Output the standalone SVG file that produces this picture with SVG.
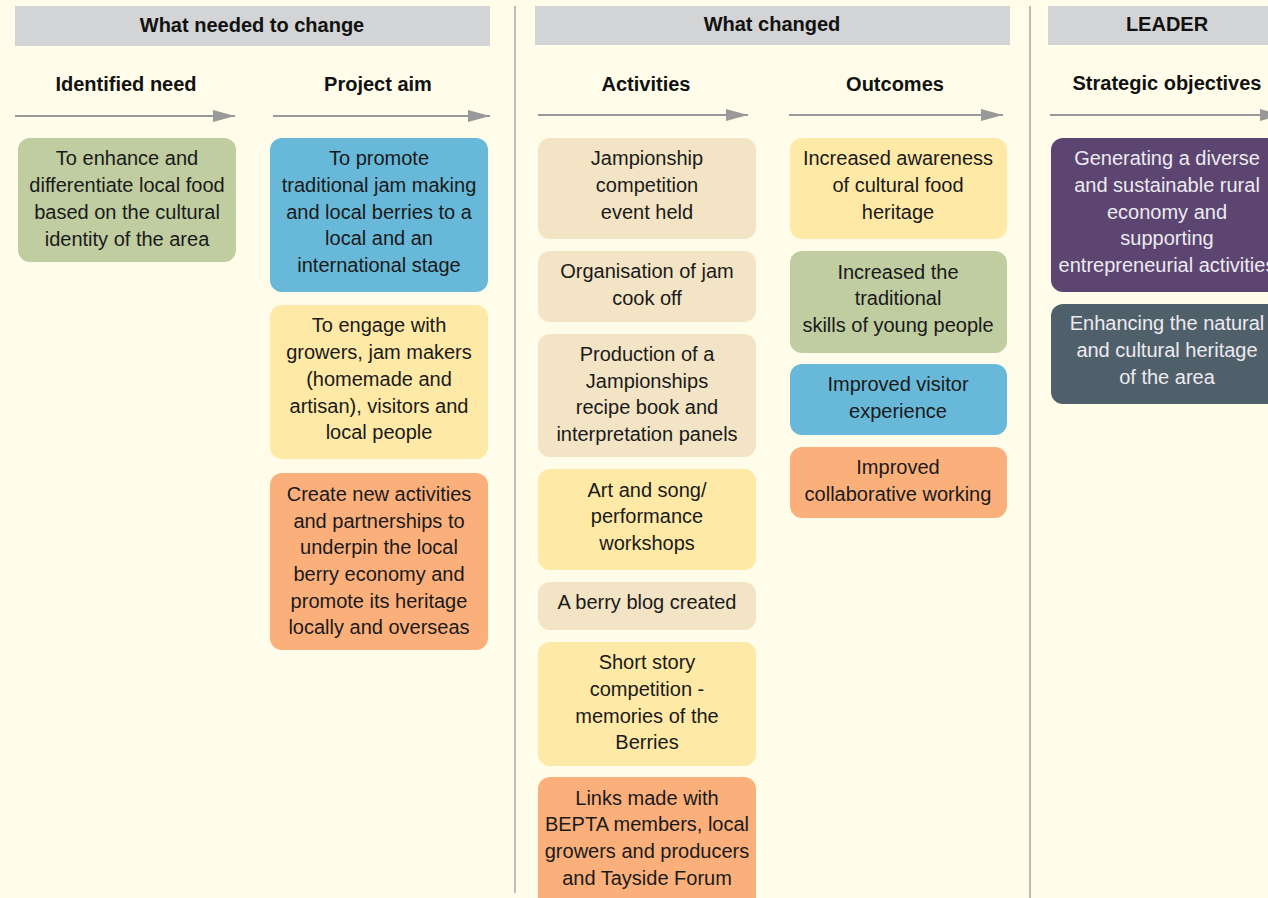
<svg xmlns="http://www.w3.org/2000/svg" width="1268" height="898" viewBox="0 0 1268 898">
<defs>
<marker id="ah" viewBox="0 0 22 12" refX="22" refY="6" markerWidth="22" markerHeight="12" markerUnits="userSpaceOnUse" orient="auto">
<path d="M0,0 L22,6 L0,12 Z" fill="#999999"/>
</marker>
<style>
.bar{fill:#D3D4D6}
.sep{stroke:#BDBDBD;stroke-width:2}
.h{font-family:"Liberation Sans",Arial,sans-serif;font-size:20px;font-weight:bold;fill:#111;text-anchor:middle}
.t{font-family:"Liberation Sans",Arial,sans-serif;font-size:20px;fill:#1a1a1a;text-anchor:middle}
.w{fill:#EDEAF0}
.arr{stroke:#999999;stroke-width:2;fill:none}
.green{fill:#BFCDA0}
.blue{fill:#68B9D9}
.yellow{fill:#FFE9A6}
.orange{fill:#FBB07C}
.beige{fill:#F2E4C4}
.purple{fill:#5C4571}
.slate{fill:#4F606B}
</style>
</defs>
<rect width="1268" height="898" fill="#FFFDE9"/>
<g id="headers">
<rect class="bar" x="15" y="6" width="475" height="40"/>
<text class="h" x="252" y="32">What needed to change</text>
<rect class="bar" x="535" y="6" width="475" height="39"/>
<text class="h" x="772" y="31">What changed</text>
<rect class="bar" x="1048" y="6" width="230" height="39"/>
<text class="h" x="1167" y="31">LEADER</text>
<line class="sep" x1="515" y1="6" x2="515" y2="893"/>
<line class="sep" x1="1030" y1="6" x2="1030" y2="898"/>
<text class="h" x="126" y="91">Identified need</text>
<text class="h" x="378" y="91">Project aim</text>
<text class="h" x="646" y="91">Activities</text>
<text class="h" x="895" y="91">Outcomes</text>
<text class="h" x="1167" y="90">Strategic objectives</text>
</g>
<g id="connectors">
<line class="arr" x1="15" y1="116" x2="235" y2="116" marker-end="url(#ah)"/>
<line class="arr" x1="273" y1="116" x2="490" y2="116" marker-end="url(#ah)"/>
<line class="arr" x1="538" y1="115" x2="748" y2="115" marker-end="url(#ah)"/>
<line class="arr" x1="789" y1="115" x2="1003" y2="115" marker-end="url(#ah)"/>
<line class="arr" x1="1050" y1="115" x2="1282" y2="115" marker-end="url(#ah)"/>
</g>
<g id="need1">
<rect class="green" x="18" y="138" width="218" height="124" rx="12"/>
<text class="t" x="127"><tspan x="127" y="165">To enhance and</tspan><tspan x="127" y="192">differentiate local food</tspan><tspan x="127" y="219">based on the cultural</tspan><tspan x="127" y="246">identity of the area</tspan></text>
</g>
<g id="aim1">
<rect class="blue" x="270" y="138" width="218" height="154" rx="12"/>
<text class="t"><tspan x="379" y="165">To promote</tspan><tspan x="379" y="192">traditional jam making</tspan><tspan x="379" y="219">and local berries to a</tspan><tspan x="379" y="245">local and an</tspan><tspan x="379" y="272">international stage</tspan></text>
</g>
<g id="aim2">
<rect class="yellow" x="270" y="305" width="218" height="154" rx="12"/>
<text class="t"><tspan x="379" y="332">To engage with</tspan><tspan x="379" y="359">growers, jam makers</tspan><tspan x="379" y="386">(homemade and</tspan><tspan x="379" y="413">artisan), visitors and</tspan><tspan x="379" y="439">local people</tspan></text>
</g>
<g id="aim3">
<rect class="orange" x="270" y="473" width="218" height="177" rx="12"/>
<text class="t"><tspan x="379" y="501">Create new activities</tspan><tspan x="379" y="528">and partnerships to</tspan><tspan x="379" y="554">underpin the local</tspan><tspan x="379" y="581">berry economy and</tspan><tspan x="379" y="608">promote its heritage</tspan><tspan x="379" y="634">locally and overseas</tspan></text>
</g>
<g id="act1">
<rect class="beige" x="538" y="138" width="218" height="101" rx="12"/>
<text class="t"><tspan x="647" y="165">Jampionship</tspan><tspan x="647" y="192">competition</tspan><tspan x="647" y="219">event held</tspan></text>
</g>
<g id="act2">
<rect class="beige" x="538" y="251" width="218" height="71" rx="12"/>
<text class="t"><tspan x="647" y="278">Organisation of jam</tspan><tspan x="647" y="305">cook off</tspan></text>
</g>
<g id="act3">
<rect class="beige" x="538" y="334" width="218" height="123" rx="12"/>
<text class="t"><tspan x="647" y="361">Production of a</tspan><tspan x="647" y="388">Jampionships</tspan><tspan x="647" y="414">recipe book and</tspan><tspan x="647" y="441">interpretation panels</tspan></text>
</g>
<g id="act4">
<rect class="yellow" x="538" y="469" width="218" height="101" rx="12"/>
<text class="t"><tspan x="647" y="497">Art and song/</tspan><tspan x="647" y="523">performance</tspan><tspan x="647" y="550">workshops</tspan></text>
</g>
<g id="act5">
<rect class="beige" x="538" y="582" width="218" height="48" rx="12"/>
<text class="t"><tspan x="647" y="609">A berry blog created</tspan></text>
</g>
<g id="act6">
<rect class="yellow" x="538" y="642" width="218" height="124" rx="12"/>
<text class="t"><tspan x="647" y="669">Short story</tspan><tspan x="647" y="696">competition -</tspan><tspan x="647" y="723">memories of the</tspan><tspan x="647" y="749">Berries</tspan></text>
</g>
<g id="act7">
<rect class="orange" x="538" y="777" width="218" height="135" rx="12"/>
<text class="t"><tspan x="647" y="805">Links made with</tspan><tspan x="647" y="831">BEPTA members, local</tspan><tspan x="647" y="858">growers and producers</tspan><tspan x="647" y="885">and Tayside Forum</tspan></text>
</g>
<g id="out1">
<rect class="yellow" x="790" y="138" width="217" height="101" rx="12"/>
<text class="t"><tspan x="898" y="165">Increased awareness</tspan><tspan x="898" y="192">of cultural food</tspan><tspan x="898" y="219">heritage</tspan></text>
</g>
<g id="out2">
<rect class="green" x="790" y="251" width="217" height="102" rx="12"/>
<text class="t"><tspan x="898" y="279">Increased the</tspan><tspan x="898" y="305">traditional</tspan><tspan x="898" y="332">skills of young people</tspan></text>
</g>
<g id="out3">
<rect class="blue" x="790" y="364" width="217" height="71" rx="12"/>
<text class="t"><tspan x="898" y="391">Improved visitor</tspan><tspan x="898" y="418">experience</tspan></text>
</g>
<g id="out4">
<rect class="orange" x="790" y="447" width="217" height="71" rx="12"/>
<text class="t"><tspan x="898" y="474">Improved</tspan><tspan x="898" y="501">collaborative working</tspan></text>
</g>
<g id="obj1">
<rect class="purple" x="1051" y="138" width="240" height="154" rx="12"/>
<text class="t w"><tspan x="1167" y="165">Generating a diverse</tspan><tspan x="1167" y="192">and sustainable rural</tspan><tspan x="1167" y="219">economy and</tspan><tspan x="1167" y="245">supporting</tspan><tspan x="1167" y="272">entrepreneurial activities</tspan></text>
</g>
<g id="obj2">
<rect class="slate" x="1051" y="304" width="240" height="100" rx="12"/>
<text class="t w"><tspan x="1167" y="330">Enhancing the natural</tspan><tspan x="1167" y="357">and cultural heritage</tspan><tspan x="1167" y="384">of the area</tspan></text>
</g>
</svg>
